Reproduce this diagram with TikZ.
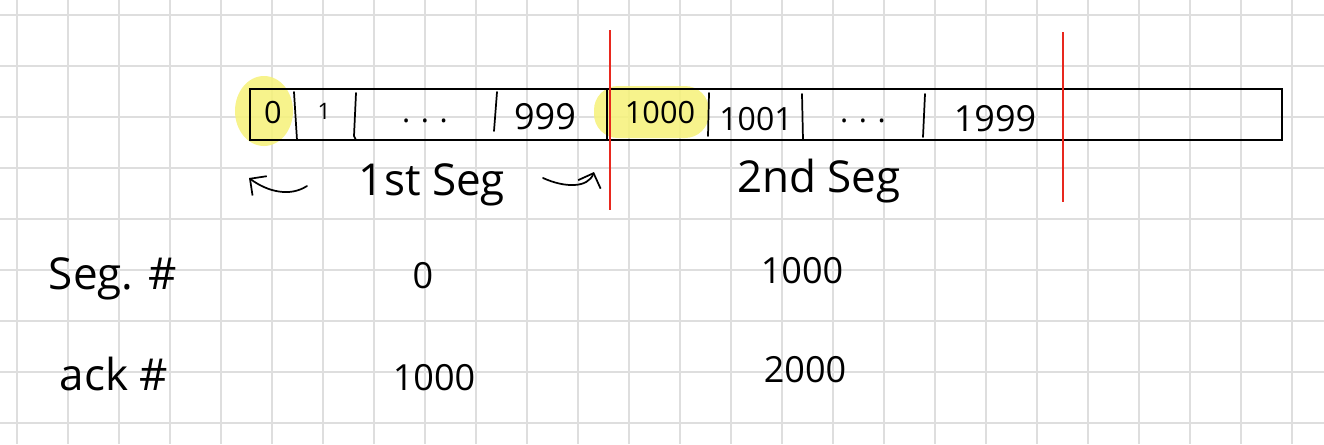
\documentclass[tikz,border=0pt]{standalone}
\usepackage{fontspec}
\setmainfont{Open Sans}
\usetikzlibrary{arrows.meta}
\definecolor{gridc}{RGB}{222,222,222}
\definecolor{hlc}{RGB}{246,242,120}
\definecolor{redc}{RGB}{232,40,30}
\begin{document}
\begin{tikzpicture}[x=0.75pt,y=-0.75pt,
  gridline/.style={draw=gridc,line width=1.1pt},
  boxline/.style={line width=1.6pt},
  divline/.style={line width=1.3pt,line cap=round},
  seamline/.style={draw=redc,line width=1.4pt},
  hilite/.style={fill=hlc,opacity=0.85},
  boxnum/.style={font=\fontsize{23}{23}\selectfont,anchor=base,inner sep=0pt},
  midnum/.style={font=\fontsize{24}{24}\selectfont,anchor=base,inner sep=0pt},
  bignum/.style={font=\fontsize{27}{27}\selectfont,anchor=base,inner sep=0pt},
  smallnum/.style={font=\fontsize{17}{17}\selectfont,anchor=base,inner sep=0pt},
  lbl/.style={font=\fontsize{33}{33}\selectfont,anchor=base,inner sep=0pt},
  rownum/.style={font=\fontsize{27}{27}\selectfont,anchor=base,inner sep=0pt},
  segarrow/.style={line width=1.3pt,line cap=round,-{Straight Barb[length=9pt,width=18pt]}}]
\useasboundingbox (0,0) rectangle (1324,444);
\fill[white] (0,0) rectangle (1324,444);
% grid paper
\foreach \i in {0,...,25} \draw[gridline] ({17+51*\i},0) -- ({17+51*\i},444);
\foreach \j in {0,...,8} \draw[gridline] (0,{15+51*\j}) -- (1324,{15+51*\j});
% highlights
\fill[hilite] (264,111) ellipse [x radius=29, y radius=35];
\fill[hilite, rounded corners=18pt] (594,86) rectangle (709,138);
% byte stream box
\draw[boxline] (250,89) rectangle (1282,140);
\draw[divline] (294,92) -- (297,140);
\draw[divline] (356,93) -- (354,136) -- (356,140);
\draw[divline] (497,92) -- (494,131);
\draw[divline] (607,89) -- (607,140);
\draw[divline] (709,93) -- (708,136);
\draw[divline] (802,94) -- (803,140);
\draw[divline] (925,94) -- (923,137);
% segment boundaries
\draw[seamline] (610,30) -- (610,210);
\draw[seamline] (1063,32) -- (1063,202);
% byte labels
\node[boxnum] (c0) at (273,123) {0};
\node[smallnum] (c1) at (324,119) {1};
\node[boxnum] (cdots1) at (425,122) {. . .};
\node[bignum] (c999) at (545,129) {999};
\node[boxnum] (c1000) at (660,123) {1000};
\node[midnum] (c1001) at (756,130) {1001};
\node[boxnum] (cdots2) at (863,122) {. . .};
\node[bignum] (c1999) at (995,131) {1999};
% segment labels
\node[lbl] (seg1) at (432,195) {1st Seg};
\node[lbl] (seg2) at (819,192) {2nd Seg};
\coordinate (la0) at (307,186);
\coordinate (la1) at (249,178);
\draw[segarrow] (la0) .. controls (290,197) and (268,192) .. (la1);
\coordinate (ra0) at (543,178);
\coordinate (ra1) at (594,172);
\draw[segarrow] (ra0) .. controls (565,188) and (588,188) .. (ra1);
% table
\node[lbl] (seghdr) at (113,289) {Seg. \#};
\node[lbl] (ackhdr) at (114,390) {ack \#};
\node[rownum] (s0) at (423,288) {0};
\node[rownum] (s1000) at (802,283) {1000};
\node[rownum] (a1000) at (434,390) {1000};
\node[rownum] (a2000) at (805,382) {2000};
\end{tikzpicture}
\end{document}
